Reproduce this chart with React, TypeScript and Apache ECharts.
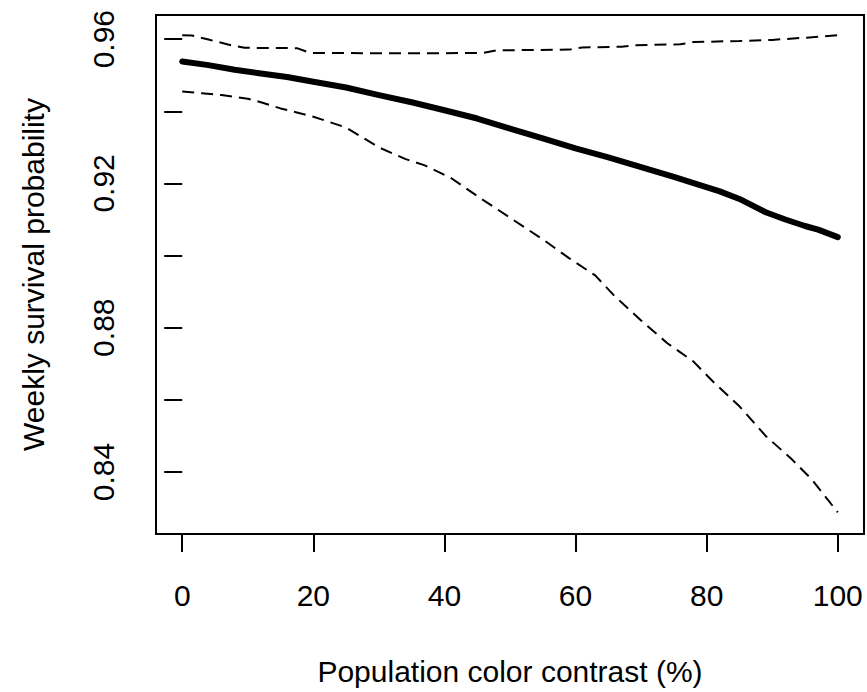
import { useEffect, useRef } from "react";
import * as echarts from "echarts";

const xTickValues = [0, 20, 40, 60, 80, 100];
const yTickValues = [0.84, 0.86, 0.88, 0.9, 0.92, 0.94, 0.96];
const yLabelValues = [0.84, 0.88, 0.92, 0.96];

const meanX = [0, 4, 8, 12, 16, 20, 25, 30, 35, 40, 45, 50, 55, 60, 65, 70, 75, 78, 82, 85, 89, 92, 95, 97, 100];
const meanY = [0.9538, 0.9528, 0.9515, 0.9505, 0.9495, 0.9482, 0.9466, 0.9445, 0.9425, 0.9403, 0.938, 0.9352, 0.9325, 0.9297, 0.9272, 0.9245, 0.9218, 0.9201, 0.9178, 0.9157, 0.912, 0.91, 0.9082, 0.9072, 0.9051];

const upperX = [0, 1.5, 4, 7, 9.5, 17.5, 19.5, 30, 40, 46, 48, 59, 61, 67, 69, 76, 78, 85, 90, 95, 100];
const upperY = [0.9611, 0.961, 0.9599, 0.9585, 0.9576, 0.9575, 0.9562, 0.9561, 0.9561, 0.9562, 0.9569, 0.9571, 0.9577, 0.9579, 0.9583, 0.9586, 0.9592, 0.9595, 0.9598, 0.9604, 0.9611];

const lowerX = [0, 3, 6, 10, 12, 15, 20, 25, 30, 34, 37, 41, 45, 50, 55, 59, 63, 66, 70, 74, 78, 81, 85, 89, 93, 96, 100];
const lowerY = [0.9455, 0.945, 0.9445, 0.9435, 0.9425, 0.9408, 0.9385, 0.9355, 0.93, 0.9268, 0.925, 0.9215, 0.9165, 0.9105, 0.9045, 0.8993, 0.8945, 0.8887, 0.882, 0.8757, 0.8706, 0.865, 0.8582, 0.85, 0.8435, 0.838, 0.8288];

const xTitle = "Population color contrast (%)";
const yTitle = "Weekly survival probability";

const FONT = "'Liberation Sans', Arial, Helvetica, sans-serif";

const pairs = (xs: number[], ys: number[]) => xs.map((x, i) => [x, ys[i]]);

export default function App() {
  const ref = useRef<HTMLDivElement>(null);
  useEffect(() => {
    if (!ref.current) return;
    const chart = echarts.init(ref.current, undefined, { renderer: "svg" });
    const dashed = {
      color: "#000",
      width: 2,
      type: [12, 7] as number[],
      cap: "butt" as const,
    };
    chart.setOption({
      animation: false,
      backgroundColor: "#fff",
      grid: {
        left: 156,
        right: 3,
        top: 15,
        bottom: 158,
        show: true,
        borderColor: "#000",
        borderWidth: 2,
        backgroundColor: "transparent",
      },
      xAxis: {
        type: "value",
        min: -4,
        max: 104,
        axisLine: { show: false },
        splitLine: { show: false },
        axisTick: {
          show: true,
          customValues: xTickValues,
          length: 18,
          inside: false,
          lineStyle: { color: "#000", width: 2 },
        },
        axisLabel: {
          customValues: xTickValues,
          margin: 46,
          fontSize: 30,
          color: "#000",
          fontFamily: FONT,
          formatter: (v: number) => String(v),
        },
        name: xTitle,
        nameLocation: "middle",
        nameGap: 122,
        nameTextStyle: { fontSize: 30, color: "#000", fontFamily: FONT },
      },
      yAxis: {
        type: "value",
        min: 0.8228,
        max: 0.9667,
        axisLine: { show: false },
        splitLine: { show: false },
        axisTick: {
          show: true,
          customValues: yTickValues,
          length: 18,
          inside: false,
          lineStyle: { color: "#000", width: 2 },
        },
        axisLabel: {
          customValues: yLabelValues,
          rotate: 90,
          margin: 38,
          fontSize: 30,
          color: "#000",
          fontFamily: FONT,
          formatter: (v: number) => v.toFixed(2),
        },
        name: yTitle,
        nameLocation: "middle",
        nameGap: 108,
        nameTextStyle: { fontSize: 30, color: "#000", fontFamily: FONT },
      },
      series: [
        {
          type: "line",
          data: pairs(meanX, meanY),
          symbol: "none",
          lineStyle: { color: "#000", width: 6, cap: "round", join: "round" },
          silent: true,
        },
        {
          type: "line",
          data: pairs(upperX, upperY),
          symbol: "none",
          lineStyle: dashed,
          silent: true,
        },
        {
          type: "line",
          data: pairs(lowerX, lowerY),
          symbol: "none",
          lineStyle: dashed,
          silent: true,
        },
      ],
    });
    return () => chart.dispose();
  }, []);
  return (
    <div
      ref={ref}
      style={{ position: "absolute", left: 0, top: 0, width: 867, height: 692 }}
    />
  );
}
